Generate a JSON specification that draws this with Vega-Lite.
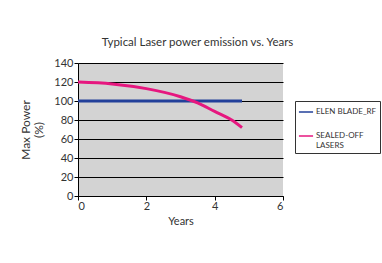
{
  "$schema": "https://vega.github.io/schema/vega-lite/v6.json",
  "width": 205,
  "height": 133,
  "autosize": {"type": "none"},
  "padding": {"left": 78, "top": 63, "right": 99, "bottom": 67},
  "background": "white",
  "title": {
    "text": "Typical Laser power emission vs. Years",
    "fontSize": 11.5,
    "fontWeight": "normal",
    "font": "Lato",
    "color": "#333",
    "anchor": "middle",
    "dx": 17,
    "offset": 9
  },
  "data": {
    "values": [
      {"series": "ELEN BLADE_RF", "years": 0, "power": 100},
      {"series": "ELEN BLADE_RF", "years": 4.8, "power": 100},
      {"series": "SEALED-OFF LASERS", "years": 0, "power": 120},
      {"series": "SEALED-OFF LASERS", "years": 1, "power": 118},
      {"series": "SEALED-OFF LASERS", "years": 2, "power": 113},
      {"series": "SEALED-OFF LASERS", "years": 3, "power": 104.5},
      {"series": "SEALED-OFF LASERS", "years": 3.5, "power": 98},
      {"series": "SEALED-OFF LASERS", "years": 4, "power": 89},
      {"series": "SEALED-OFF LASERS", "years": 4.5, "power": 80},
      {"series": "SEALED-OFF LASERS", "years": 4.8, "power": 72}
    ]
  },
  "mark": {"type": "line", "strokeWidth": 3, "interpolate": "monotone"},
  "encoding": {
    "x": {
      "field": "years",
      "type": "quantitative",
      "scale": {"domain": [0, 6], "nice": false},
      "axis": {
        "title": "Years",
        "values": [0, 2, 4, 6],
        "grid": false,
        "domainColor": "black",
        "tickColor": "black",
        "tickSize": 4,
        "labelFontSize": 11,
        "labelColor": "#333",
        "labelFont": "Lato",
        "titleFont": "Lato",
        "titleFontSize": 11,
        "titleFontWeight": "normal",
        "titleColor": "#333",
        "labelPadding": 0,
        "titlePadding": 4
      }
    },
    "y": {
      "field": "power",
      "type": "quantitative",
      "scale": {"domain": [0, 140], "nice": false},
      "axis": {
        "title": ["Max Power", "(%)"],
        "values": [0, 20, 40, 60, 80, 100, 120, 140],
        "grid": true,
        "gridColor": "black",
        "gridOpacity": 1,
        "gridWidth": 1,
        "domainColor": "black",
        "tickColor": "black",
        "tickSize": 4,
        "labelFontSize": 11,
        "labelColor": "#333",
        "labelFont": "Lato",
        "labelPadding": 1,
        "titleFont": "Lato",
        "titleFontSize": 12,
        "titleFontWeight": "normal",
        "titleColor": "#333",
        "titlePadding": 8,
        "titleLineHeight": 13
      }
    },
    "color": {
      "field": "series",
      "type": "nominal",
      "scale": {"domain": ["ELEN BLADE_RF", "SEALED-OFF LASERS"], "range": ["#22409a", "#e6177f"]},
      "legend": {
        "title": null,
        "orient": "none",
        "legendX": 217,
        "legendY": 38,
        "strokeColor": "#333",
        "fillColor": "white",
        "padding": 3,
        "symbolType": "stroke",
        "symbolSize": 200,
        "symbolStrokeWidth": 1.5,
        "labelFont": "Lato",
        "labelFontSize": 8,
        "labelColor": "#333",
        "labelOffset": 2,
        "labelLineHeight": 9,
        "labelLimit": 70,
        "rowPadding": 12,
        "labelExpr": "datum.label == 'SEALED-OFF LASERS' ? ['SEALED-OFF', 'LASERS'] : datum.label"
      }
    }
  },
  "config": {
    "view": {"fill": "#d3d3d3", "stroke": null}
  }
}
